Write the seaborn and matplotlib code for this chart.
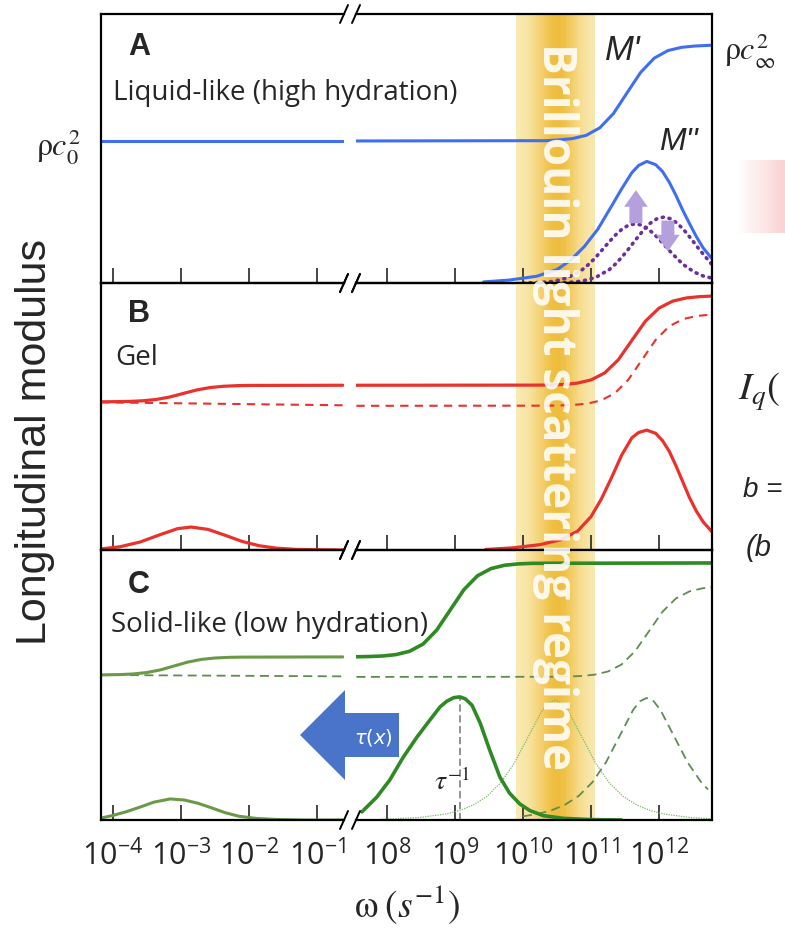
import numpy as np
import matplotlib
matplotlib.use("Agg")
import matplotlib.pyplot as plt
import matplotlib.transforms as mtransforms
from matplotlib.patches import Polygon
from matplotlib.ticker import NullLocator
import seaborn as sns

sns.set_style("white")
plt.rcParams["font.family"] = ["Open Sans", "DejaVu Sans"]
plt.rcParams["mathtext.fontset"] = "dejavusans"

# ------------------------------------------------------------------ data
# all x values are log10(omega / s^-1)
tick_left = [-4, -3, -2, -1]
tick_right = [8, 9, 10, 11, 12]
left_lim = [-4.176, -0.603]
right_lim = [7.544, 12.779]
band_range = [9.9, 11.06]          # Brillouin light scattering regime

# Panel A (liquid-like)
A_Mp_left_x = [-4.176, -0.62]
A_Mp_left_y = [0.528, 0.528]
A_Mp_right_x = [7.55, 10.13, 10.33, 10.53, 10.73, 10.93, 11.13, 11.33, 11.53, 11.73, 11.93, 12.13, 12.33, 12.53, 12.78]
A_Mp_right_y = [0.528, 0.529, 0.529, 0.532, 0.537, 0.549, 0.577, 0.630, 0.707, 0.783, 0.836, 0.864, 0.876, 0.881, 0.884]
A_Mpp_x = [9.42, 9.8, 10.2, 10.5, 10.7, 10.9, 11.1, 11.3, 11.45, 11.6, 11.7, 11.82, 11.95, 12.05, 12.15, 12.25, 12.35, 12.45, 12.55, 12.65, 12.78]
A_Mpp_y = [0.004, 0.011, 0.025, 0.05, 0.085, 0.135, 0.2, 0.285, 0.35, 0.41, 0.437, 0.452, 0.44, 0.415, 0.375, 0.325, 0.27, 0.22, 0.172, 0.13, 0.09]
A_P1_x = [10.0, 10.25, 10.45, 10.65, 10.85, 10.95, 11.05, 11.15, 11.25, 11.35, 11.45, 11.55, 11.65, 11.75, 11.85, 11.95, 12.05, 12.15, 12.25, 12.35, 12.45, 12.55, 12.65, 12.78]
A_P1_y = [0.0, 0.002, 0.006, 0.019, 0.045, 0.066, 0.090, 0.119, 0.148, 0.176, 0.199, 0.215, 0.22, 0.215, 0.199, 0.176, 0.150, 0.121, 0.095, 0.070, 0.052, 0.037, 0.026, 0.018]
A_P2_x = [10.3, 10.67, 10.87, 11.07, 11.27, 11.37, 11.47, 11.57, 11.67, 11.77, 11.87, 11.97, 12.07, 12.17, 12.27, 12.37, 12.47, 12.57, 12.67, 12.78]
A_P2_y = [0.0, 0.002, 0.007, 0.021, 0.050, 0.073, 0.101, 0.132, 0.165, 0.196, 0.222, 0.239, 0.245, 0.239, 0.222, 0.196, 0.165, 0.132, 0.101, 0.068]
A_arrow_up = [11.66, 0.222, 0.345]     # x, from, to
A_arrow_down = [12.13, 0.232, 0.118]
A_levels = [0.528, 0.885]               # rho c0^2, rho cinf^2

# Panel B (gel)
B_Mp_left_x = [-4.176, -3.97, -3.77, -3.57, -3.37, -3.17, -2.97, -2.77, -2.57, -2.37, -2.17, -1.97, -0.62]
B_Mp_left_y = [0.555, 0.5556, 0.5565, 0.5587, 0.5635, 0.5727, 0.586, 0.5993, 0.6085, 0.6133, 0.6155, 0.6164, 0.617]
B_dash_left_x = [-4.176, -0.62]
B_dash_left_y = [0.553, 0.542]
B_Mp_right_x = [7.55, 10.2, 10.4, 10.6, 10.8, 11.0, 11.2, 11.4, 11.6, 11.8, 12.0, 12.2, 12.4, 12.6, 12.78]
B_Mp_right_y = [0.617, 0.6175, 0.618, 0.620, 0.625, 0.637, 0.663, 0.712, 0.785, 0.857, 0.906, 0.932, 0.944, 0.949, 0.951]
B_dash_right_x = [7.55, 10.35, 10.55, 10.75, 10.95, 11.15, 11.35, 11.55, 11.75, 11.95, 12.15, 12.35, 12.55, 12.78]
B_dash_right_y = [0.540, 0.5406, 0.5414, 0.5434, 0.5485, 0.5605, 0.5872, 0.6382, 0.7125, 0.7868, 0.8378, 0.8645, 0.8765, 0.882]
B_Mpp_left_x = [-4.176, -3.9, -3.6, -3.3, -3.05, -2.85, -2.6, -2.35, -2.1, -1.85, -1.6, -1.3, -0.62]
B_Mpp_left_y = [0.004, 0.012, 0.030, 0.058, 0.080, 0.086, 0.077, 0.055, 0.032, 0.016, 0.007, 0.002, 0.0]
B_Mpp_right_x = [9.45, 9.85, 10.25, 10.55, 10.8, 11.0, 11.15, 11.3, 11.45, 11.6, 11.7, 11.82, 11.95, 12.05, 12.15, 12.25, 12.35, 12.45, 12.55, 12.65, 12.78]
B_Mpp_right_y = [0.002, 0.008, 0.020, 0.038, 0.07, 0.125, 0.19, 0.27, 0.355, 0.42, 0.44, 0.449, 0.437, 0.41, 0.37, 0.315, 0.255, 0.195, 0.145, 0.105, 0.068]

# Panel C (solid-like)
C_Mp_left_x = [-4.176, -3.9, -3.7, -3.5, -3.3, -3.1, -2.9, -2.7, -2.5, -2.3, -2.1, -0.62]
C_Mp_left_y = [0.5374, 0.5386, 0.541, 0.5462, 0.5561, 0.5705, 0.5849, 0.5948, 0.600, 0.6024, 0.6033, 0.604]
C_dash_left_x = [-4.176, -0.62]
C_dash_left_y = [0.537, 0.532]
C_Mp_right_x = [7.55, 7.73, 7.93, 8.13, 8.33, 8.53, 8.73, 8.93, 9.13, 9.33, 9.53, 9.73, 9.93, 10.13, 12.78]
C_Mp_right_y = [0.6046, 0.6054, 0.6074, 0.6125, 0.6247, 0.6516, 0.7031, 0.778, 0.8529, 0.9044, 0.9313, 0.9435, 0.9485, 0.9506, 0.952]
C_dash_right_x = [7.55, 10.45, 10.65, 10.85, 11.05, 11.25, 11.45, 11.65, 11.85, 12.05, 12.25, 12.45, 12.65, 12.78]
C_dash_right_y = [0.530, 0.5305, 0.5313, 0.5333, 0.5383, 0.550, 0.5761, 0.6259, 0.6985, 0.7711, 0.8209, 0.847, 0.8587, 0.8627]
C_Mpp_left_x = [-4.176, -4.0, -3.8, -3.6, -3.4, -3.16, -2.95, -2.75, -2.55, -2.35, -2.15, -1.9, -1.6, -1.2, -0.62]
C_Mpp_left_y = [0.007, 0.017, 0.031, 0.048, 0.066, 0.078, 0.074, 0.062, 0.045, 0.027, 0.014, 0.006, 0.002, 0.0, 0.0]
C_Mpp_right_x = [7.63, 7.85, 8.04, 8.24, 8.44, 8.63, 8.78, 8.88, 8.98, 9.07, 9.15, 9.25, 9.37, 9.51, 9.66, 9.8, 9.95, 10.1, 10.3, 10.6, 11.0, 11.45]
C_Mpp_right_y = [0.03, 0.085, 0.148, 0.233, 0.307, 0.37, 0.419, 0.44, 0.453, 0.456, 0.449, 0.425, 0.359, 0.259, 0.159, 0.10, 0.06, 0.035, 0.016, 0.006, 0.0015, 0.0]
C_thin_x = [7.9, 8.47, 8.87, 9.07, 9.27, 9.47, 9.67, 9.87, 10.07, 10.27, 10.37, 10.47, 10.57, 10.67, 10.87, 11.07, 11.27, 11.47, 11.67, 11.87, 12.07, 12.47, 12.78]
C_thin_y = [0.0024, 0.0089, 0.0223, 0.0353, 0.0559, 0.0879, 0.1373, 0.2098, 0.3052, 0.4008, 0.4326, 0.444, 0.4326, 0.4008, 0.3052, 0.2098, 0.1373, 0.0879, 0.0559, 0.0353, 0.0223, 0.0089, 0.0044]
C_dashpk_x = [10.0, 10.22, 10.42, 10.62, 10.82, 11.02, 11.22, 11.42, 11.62, 11.72, 11.82, 11.92, 12.02, 12.22, 12.42, 12.62, 12.72]
C_dashpk_y = [0.0137, 0.0227, 0.0359, 0.0569, 0.0895, 0.1398, 0.2136, 0.3107, 0.408, 0.440, 0.452, 0.440, 0.408, 0.3107, 0.2136, 0.1398, 0.113]
C_tau_inv = [9.07, 0.456]

# ------------------------------------------------------------------ colours
BLUE = "#3f6ef0"
PURPLE = "#6b2fa0"
LAVENDER = "#b4a0dc"
RED = "#e8322b"
GREEN = "#2f8a24"
OLIVE = "#6a9947"
GDASH = "#5f8c50"
GTHIN = "#7ab86a"

# ------------------------------------------------------------------ figure
W, H = 785, 933
fig = plt.figure(figsize=(W / 100, H / 100), dpi=100)


def fx(p):
    return p / W


def fy(p):
    return 1 - p / H


rows = [(14, 283), (283, 550), (550, 820)]
axes = []
for i, (t, b) in enumerate(rows):
    axL = fig.add_axes([fx(101), fy(b), fx(344) - fx(101), (b - t) / H])
    axR = fig.add_axes([fx(356), fy(b), fx(712) - fx(356), (b - t) / H])
    for ax, lim, ticks in ((axL, left_lim, tick_left), (axR, right_lim, tick_right)):
        ax.set_xscale("log")
        ax.set_xlim(10.0 ** lim[0], 10.0 ** lim[1])
        ax.set_ylim(0, 1)
        ax.set_xticks([10.0 ** e for e in ticks])
        ax.xaxis.set_minor_locator(NullLocator())
        ax.set_xticklabels([r"$\mathregular{10^{%d}}$" % e for e in ticks])
        ax.tick_params(axis="x", direction="in", length=11, width=1.2, bottom=True,
                       top=False, labelbottom=(i == 2), labelsize=22, pad=14)
        ax.set_yticks([])
        for s in ax.spines.values():
            s.set_linewidth(1.6)
            s.set_color("black")
        ax.patch.set_alpha(0)
    axL.spines["right"].set_visible(False)
    axR.spines["left"].set_visible(False)
    axes.append((axL, axR))

# Brillouin band (gradient made of thin spans) in every right-hand panel
edge_c = np.array(matplotlib.colors.to_rgb("#f9ebb6"))
cent_c = np.array(matplotlib.colors.to_rgb("#eebd3e"))
nseg = 40
bedges = np.linspace(band_range[0], band_range[1], nseg + 1)
for axL, axR in axes:
    for k in range(nseg):
        tt = (k + 0.5) / nseg
        w = np.exp(-((tt - 0.52) / 0.28) ** 2)
        col = edge_c * (1 - w) + cent_c * w
        axR.axvspan(10.0 ** bedges[k], 10.0 ** bedges[k + 1], color=col, lw=0, zorder=0)


def draw(ax, xs, ys, **kw):
    sns.lineplot(x=10.0 ** np.asarray(xs), y=np.asarray(ys), ax=ax, estimator=None,
                 sort=False, legend=False, **kw)


# Panel A
axL, axR = axes[0]
draw(axL, A_Mp_left_x, A_Mp_left_y, color=BLUE, linewidth=2.2)
draw(axR, A_Mp_right_x, A_Mp_right_y, color=BLUE, linewidth=2.2)
draw(axR, A_P1_x, A_P1_y, color=PURPLE, linewidth=2.6, linestyle=(0, (0.3, 1.6)), dash_capstyle="round")
draw(axR, A_P2_x, A_P2_y, color=PURPLE, linewidth=2.6, linestyle=(0, (0.3, 1.6)), dash_capstyle="round")
draw(axR, A_Mpp_x, A_Mpp_y, color=BLUE, linewidth=2.2)
for ar in (A_arrow_up, A_arrow_down):
    axR.annotate("", xy=(10.0 ** ar[0], ar[2]), xytext=(10.0 ** ar[0], ar[1]),
                 arrowprops=dict(arrowstyle="simple,head_width=1.0,head_length=0.7,tail_width=0.55",
                                 color=LAVENDER, lw=0, shrinkA=0, shrinkB=0, mutation_scale=17))
axL.set_yticks([A_levels[0]])
axL.set_yticklabels([r"$\mathrm{\rho}c_0^2$"])
axL.tick_params(axis="y", length=0, pad=15, labelsize=23)
axR.yaxis.tick_right()
axR.set_yticks([A_levels[1]])
axR.set_yticklabels([r"$\mathrm{\rho}c_\infty^2$"])
axR.tick_params(axis="y", length=0, pad=9, labelsize=23, right=True, labelright=True)
for lab in axL.get_yticklabels() + axR.get_yticklabels():
    lab.set_math_fontfamily("stix")

# Panel B
axL, axR = axes[1]
draw(axL, B_dash_left_x, B_dash_left_y, color=RED, linewidth=1.5, linestyle=(0, (4, 3)))
draw(axL, B_Mp_left_x, B_Mp_left_y, color=RED, linewidth=2.3)
draw(axL, B_Mpp_left_x, B_Mpp_left_y, color=RED, linewidth=2.3)
draw(axR, B_dash_right_x, B_dash_right_y, color=RED, linewidth=1.5, linestyle=(0, (4, 3)))
draw(axR, B_Mp_right_x, B_Mp_right_y, color=RED, linewidth=2.3)
draw(axR, B_Mpp_right_x, B_Mpp_right_y, color=RED, linewidth=2.3)

# Panel C
axL, axR = axes[2]
draw(axL, C_dash_left_x, C_dash_left_y, color=GDASH, linewidth=1.3, linestyle=(0, (5, 3)))
draw(axL, C_Mp_left_x, C_Mp_left_y, color=OLIVE, linewidth=2.2)
draw(axL, C_Mpp_left_x, C_Mpp_left_y, color=OLIVE, linewidth=2.2)
draw(axR, C_dash_right_x, C_dash_right_y, color=GDASH, linewidth=1.3, linestyle=(0, (5, 3)))
draw(axR, C_thin_x, C_thin_y, color=GTHIN, linewidth=0.9, linestyle=(0, (1, 1)))
draw(axR, C_dashpk_x, C_dashpk_y, color=GDASH, linewidth=1.3, linestyle=(0, (5, 3)))
draw(axR, [C_tau_inv[0], C_tau_inv[0]], [0, C_tau_inv[1]], color="#8a8a8a", linewidth=1.3,
     linestyle=(0, (4, 2)))
draw(axR, C_Mp_right_x, C_Mp_right_y, color=GREEN, linewidth=2.6)
draw(axR, C_Mpp_right_x, C_Mpp_right_y, color=GREEN, linewidth=2.6)

# broken-axis marks
for axL, axR in axes:
    for ax, x0, wpx in ((axL, 1.0, 243.0), (axR, 0.0, 356.0)):
        hpx = ax.get_position().height * H
        dx, dy = 4.0 / wpx, 9.0 / hpx
        for y0 in (0.0, 1.0):
            ax.plot([x0 - dx, x0 + dx], [y0 - dy, y0 + dy], transform=ax.transAxes,
                    color="black", lw=1.4, clip_on=False, zorder=5)

# ------------------------------------------------------------------ texts
for lab, py in (("A", 47), ("B", 314), ("C", 585)):
    fig.text(fx(128), fy(py), lab, fontsize=22, fontweight="bold",
             family="Liberation Sans", va="center", ha="left")
fig.text(fx(113), fy(93), "Liquid-like (high hydration)", fontsize=20, va="center", ha="left")
fig.text(fx(115), fy(358), "Gel", fontsize=20, va="center", ha="left")
fig.text(fx(111), fy(625), "Solid-like (low hydration)", fontsize=20, va="center", ha="left")
fig.text(fx(623), fy(50), "M'", fontsize=25, style="italic", family="Liberation Sans",
         va="center", ha="center")
fig.text(fx(678), fy(142), "M''", fontsize=23, style="italic", family="Liberation Sans",
         va="center", ha="center")

fig.text(fx(35), fy(442), "Longitudinal modulus", rotation=90, fontsize=31,
         family="Liberation Sans", va="center", ha="center")
fig.text(fx(407), fy(905), r"$\mathrm{\omega}\;\left(s^{-1}\right)$", fontsize=27,
         va="center", ha="center", math_fontfamily="stix")

# Brillouin text across all panels
axRA = axes[0][1]
band_mid = 0.5 * (band_range[0] + band_range[1])
tr = mtransforms.blended_transform_factory(axRA.transData, fig.transFigure)
fig.text(10.0 ** band_mid, fy(407), "Brillouin light scattering regime", transform=tr,
         rotation=-90, fontsize=33, fontweight="bold", color="white", alpha=0.88,
         va="center", ha="center", zorder=10)

# big blue arrow tau(x)
pts = [(300, 735), (345, 690), (345, 713), (399, 713), (399, 757), (345, 757), (345, 780)]
fig.add_artist(Polygon([(fx(px), fy(py)) for px, py in pts], closed=True,
                       transform=fig.transFigure, facecolor="#4a74c9", edgecolor="none", zorder=6))
fig.text(fx(373), fy(737), r"$\tau(x)$", color="white", fontsize=14, va="center",
         ha="center", zorder=7)
fig.text(fx(452), fy(783), r"$\tau^{-1}$", fontsize=20, va="center", ha="center",
         math_fontfamily="stix", zorder=7)

# cropped remnants at the right edge
axP = fig.add_axes([fx(737), fy(233), fx(785) - fx(737), (233 - 160) / H])
grad = np.linspace(0, 1, 50)[None, :]
axP.imshow(grad, aspect="auto", cmap=matplotlib.colors.LinearSegmentedColormap.from_list(
    "pk", ["#ffffff", "#fbd2d2"]), extent=(0, 1, 0, 1))
axP.axis("off")
fig.text(fx(738), fy(392), r"$I_q($", fontsize=28, va="center", ha="left", math_fontfamily="stix")
fig.text(fx(743), fy(490), "b =", fontsize=20, style="italic", va="center", ha="left",
         family="Liberation Sans")
fig.text(fx(746), fy(548), "(b", fontsize=21, style="italic", va="center", ha="left",
         family="Liberation Sans")

fig.savefig("out.png", dpi=100)
